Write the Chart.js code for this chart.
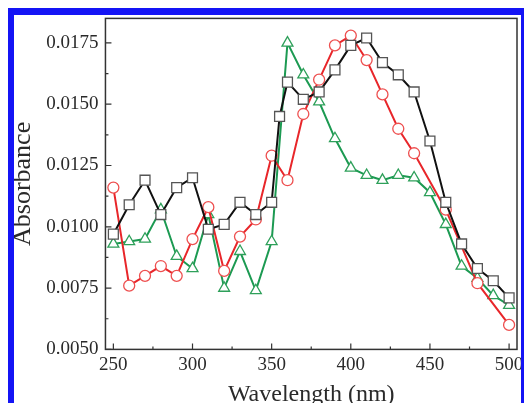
<!DOCTYPE html>
<html>
<head>
<meta charset="utf-8">
<script src="https://cdn.jsdelivr.net/npm/chart.js@4/dist/chart.umd.min.js"></script>
<style>
  html, body { margin: 0; padding: 0; background: #fff; }
  #wrap { position: relative; width: 524px; height: 403px; overflow: hidden; }
  #c { position: absolute; left: 0; top: 0; }
  #frame {
    position: absolute; left: 8px; top: 8px; width: 507px; height: 420px;
    border-top: 7px solid #1414f5; border-left: 6px solid #1414f5; border-right: 4px solid #1414f5;
    pointer-events: none;
  }
</style>
</head>
<body>
<div id="wrap">
  <canvas id="c" width="540" height="409"></canvas>
  <div id="frame"></div>
</div>
<script>
const X_TICKS = [250, 300, 350, 400, 450, 500];
const Y_TICKS = [0.0050, 0.0075, 0.0100, 0.0125, 0.0150, 0.0175];

const blackX = [250, 260, 270, 280, 290, 300, 310, 320, 330, 340, 350, 355, 360, 370, 380, 390, 400, 410, 420, 430, 440, 450, 460, 470, 480, 490, 500];
const blackY = [0.0097, 0.0109, 0.0119, 0.0105, 0.0116, 0.0120, 0.0099, 0.0101, 0.0110, 0.0105, 0.0110, 0.0145, 0.0159, 0.0152, 0.0155, 0.0164, 0.0174, 0.0177, 0.0167, 0.0162, 0.0155, 0.0135, 0.0110, 0.0093, 0.0083, 0.0078, 0.0071];

const redX = [250, 260, 270, 280, 290, 300, 310, 320, 330, 340, 350, 360, 370, 380, 390, 400, 410, 420, 430, 440, 460, 480, 500];
const redY = [0.0116, 0.0076, 0.0080, 0.0084, 0.0080, 0.0095, 0.0108, 0.0082, 0.0096, 0.0103, 0.0129, 0.0119, 0.0146, 0.0160, 0.0174, 0.0178, 0.0168, 0.0154, 0.0140, 0.0130, 0.0107, 0.0077, 0.0060];

const greenX = [250, 260, 270, 280, 290, 300, 310, 320, 330, 340, 350, 360, 370, 380, 390, 400, 410, 420, 430, 440, 450, 460, 470, 480, 490, 500];
const greenY = [0.0093, 0.0094, 0.0095, 0.0107, 0.0088, 0.0083, 0.0105, 0.0075, 0.0090, 0.0074, 0.0094, 0.0175, 0.0162, 0.0151, 0.0136, 0.0124, 0.0121, 0.0119, 0.0121, 0.0120, 0.0114, 0.0101, 0.0084, 0.0079, 0.0072, 0.0068];

const SERIF = '"Liberation Serif", "DejaVu Serif", serif';

function pts(xs, ys) {
  return xs.map((x, i) => ({ x, y: ys[i] }));
}

function series(xs, ys, line, mark, style, r) {
  return {
    data: pts(xs, ys),
    showLine: true,
    borderColor: line,
    borderWidth: 2,
    pointStyle: style,
    pointRadius: r,
    pointBorderColor: mark,
    pointBackgroundColor: '#fff',
    pointBorderWidth: 1.3,
    tension: 0,
  };
}

// box around the plot + inward major/minor ticks
const framePlugin = {
  id: 'frame',
  afterDatasetsDraw(chart) {
    const { ctx, chartArea: a, scales } = chart;
    ctx.save();
    ctx.strokeStyle = '#333';
    ctx.lineWidth = 1.5;
    ctx.strokeRect(a.left, a.top, a.right - a.left, a.bottom - a.top);
    ctx.lineWidth = 1.2;
    ctx.beginPath();
    for (let v = 250; v <= 500; v += 25) {
      const px = scales.x.getPixelForValue(v);
      const len = v % 50 === 0 ? 6 : 3;
      ctx.moveTo(px, a.bottom);
      ctx.lineTo(px, a.bottom - len);
    }
    for (let k = 0; k <= 10; k++) {
      const v = 0.005 + k * 0.00125;
      const py = scales.y.getPixelForValue(v);
      const len = k % 2 === 0 ? 6 : 3;
      ctx.moveTo(a.left, py);
      ctx.lineTo(a.left + len, py);
    }
    ctx.stroke();
    ctx.restore();
  },
};

new Chart(document.getElementById('c').getContext('2d'), {
  type: 'scatter',
  data: {
    datasets: [
      series(blackX, blackY, '#111', '#555', 'rect', 7),
      series(redX, redY, '#e8262a', '#ee5050', 'circle', 5.5),
      series(greenX, greenY, '#1c9a52', '#2ea05a', 'triangle', 6.3),
    ],
  },
  options: {
    responsive: false,
    animation: false,
    layout: { padding: { left: 8, top: 16, right: 23, bottom: 0 } },
    plugins: { legend: { display: false }, tooltip: { enabled: false } },
    scales: {
      x: {
        type: 'linear',
        min: 245,
        max: 505,
        afterBuildTicks: (s) => { s.ticks = X_TICKS.map((v) => ({ value: v })); },
        grid: { display: false, drawTicks: false },
        border: { display: false },
        ticks: { color: '#2a2a2a', font: { family: SERIF, size: 19 }, padding: 4 },
        title: { display: true, text: 'Wavelength (nm)', color: '#2a2a2a', font: { family: SERIF, size: 24 }, padding: { top: 0, bottom: 0 } },
      },
      y: {
        min: 0.005,
        max: 0.0185,
        afterBuildTicks: (s) => { s.ticks = Y_TICKS.map((v) => ({ value: v })); },
        grid: { display: false, drawTicks: false },
        border: { display: false },
        ticks: { color: '#2a2a2a', font: { family: SERIF, size: 19 }, padding: 7, callback: (v) => v.toFixed(4) },
        title: { display: true, text: 'Absorbance', color: '#2a2a2a', font: { family: SERIF, size: 26 }, padding: { top: 0, bottom: 0 } },
      },
    },
  },
  plugins: [framePlugin],
});
</script>
</body>
</html>
